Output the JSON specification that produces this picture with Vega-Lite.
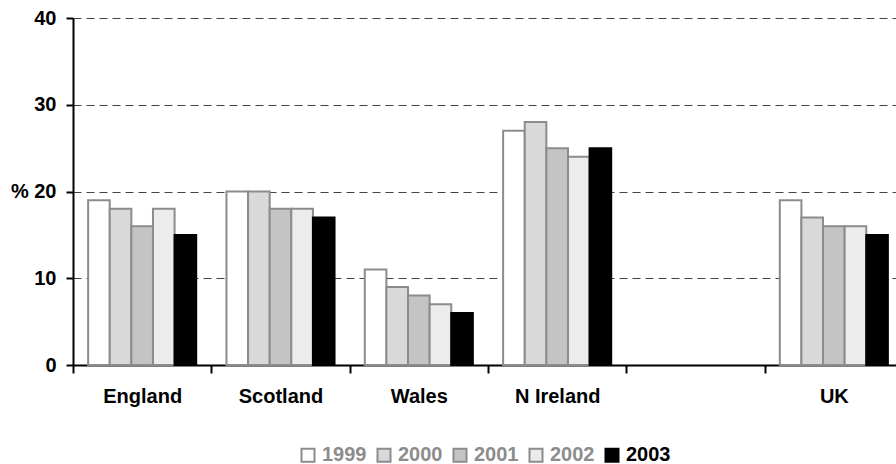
{
  "$schema": "https://vega.github.io/schema/vega-lite/v6.json",
  "width": 830,
  "height": 347,
  "autosize": "none",
  "padding": {"left": 73, "top": 18, "right": 0, "bottom": 99},
  "background": "white",
  "config": {
    "view": {"stroke": null},
    "font": "Liberation Sans"
  },
  "data": {
    "values": [
      {"region": "England", "year": "1999", "pct": 19},
      {"region": "England", "year": "2000", "pct": 18},
      {"region": "England", "year": "2001", "pct": 16},
      {"region": "England", "year": "2002", "pct": 18},
      {"region": "England", "year": "2003", "pct": 15},
      {"region": "Scotland", "year": "1999", "pct": 20},
      {"region": "Scotland", "year": "2000", "pct": 20},
      {"region": "Scotland", "year": "2001", "pct": 18},
      {"region": "Scotland", "year": "2002", "pct": 18},
      {"region": "Scotland", "year": "2003", "pct": 17},
      {"region": "Wales", "year": "1999", "pct": 11},
      {"region": "Wales", "year": "2000", "pct": 9},
      {"region": "Wales", "year": "2001", "pct": 8},
      {"region": "Wales", "year": "2002", "pct": 7},
      {"region": "Wales", "year": "2003", "pct": 6},
      {"region": "N Ireland", "year": "1999", "pct": 27},
      {"region": "N Ireland", "year": "2000", "pct": 28},
      {"region": "N Ireland", "year": "2001", "pct": 25},
      {"region": "N Ireland", "year": "2002", "pct": 24},
      {"region": "N Ireland", "year": "2003", "pct": 25},
      {"region": "UK", "year": "1999", "pct": 19},
      {"region": "UK", "year": "2000", "pct": 17},
      {"region": "UK", "year": "2001", "pct": 16},
      {"region": "UK", "year": "2002", "pct": 16},
      {"region": "UK", "year": "2003", "pct": 15}
    ]
  },
  "mark": {"type": "bar", "strokeWidth": 2},
  "encoding": {
    "x": {
      "field": "region",
      "type": "nominal",
      "scale": {
        "domain": ["England", "Scotland", "Wales", "N Ireland", " ", "UK"],
        "paddingInner": 0,
        "paddingOuter": 0
      },
      "axis": {
        "title": null,
        "labelAngle": 0,
        "tickBand": "extent",
        "tickSize": 8,
        "tickWidth": 2,
        "tickColor": "#000000",
        "domainWidth": 2,
        "domainColor": "#000000",
        "labelFontSize": 20,
        "labelFontWeight": "bold",
        "labelColor": "#000000",
        "labelPadding": 13,
        "grid": false
      }
    },
    "xOffset": {
      "field": "year",
      "type": "nominal",
      "scale": {"paddingInner": 0, "paddingOuter": 0.7}
    },
    "y": {
      "field": "pct",
      "type": "quantitative",
      "scale": {"domain": [0, 40], "nice": false},
      "axis": {
        "title": null,
        "values": [0, 10, 20, 30, 40],
        "labelExpr": "datum.value == 20 ? '% 20' : datum.label",
        "tickSize": 7,
        "tickWidth": 2,
        "tickColor": "#000000",
        "domainWidth": 2,
        "domainColor": "#000000",
        "labelFontSize": 20,
        "labelFontWeight": "bold",
        "labelColor": "#000000",
        "labelPadding": 10,
        "grid": true,
        "gridColor": "#444444",
        "gridDash": [8, 5],
        "gridWidth": 1
      }
    },
    "fill": {
      "field": "year",
      "type": "nominal",
      "scale": {
        "domain": ["1999", "2000", "2001", "2002", "2003"],
        "range": ["#ffffff", "#d9d9d9", "#c4c4c4", "#ececec", "#000000"]
      },
      "legend": {
        "title": null,
        "orient": "none",
        "legendX": 225,
        "legendY": 427,
        "direction": "horizontal",
        "symbolType": "square",
        "symbolSize": 169,
        "symbolStrokeWidth": 2,
        "labelFontSize": 20,
        "labelFontWeight": "bold",
        "labelOffset": 4,
        "columnPadding": 6,
        "encode": {
          "labels": {
            "update": {
              "fill": {"signal": "datum.label === '2003' ? '#000000' : '#8c8c8c'"}
            }
          }
        }
      }
    },
    "stroke": {
      "field": "year",
      "type": "nominal",
      "scale": {
        "domain": ["1999", "2000", "2001", "2002", "2003"],
        "range": ["#8c8c8c", "#8c8c8c", "#8c8c8c", "#8c8c8c", "#000000"]
      },
      "legend": null
    }
  }
}
